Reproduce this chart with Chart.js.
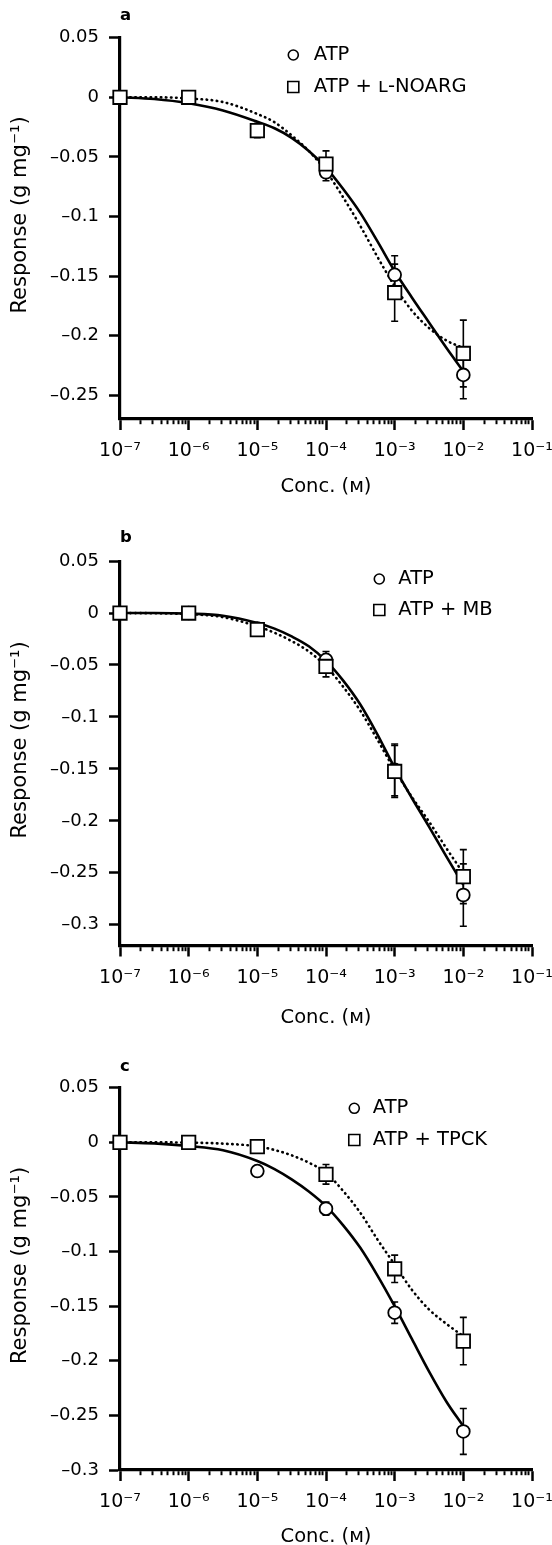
<!DOCTYPE html>
<html><head><meta charset="utf-8">
<script src="https://cdn.jsdelivr.net/npm/chart.js@4/dist/chart.umd.min.js"></script>
<style>
html,body{margin:0;padding:0;background:#fff;}
body{width:552px;height:1545px;position:relative;overflow:hidden;}
canvas{position:absolute;left:0;}
</style></head><body>
<canvas id="pa" width="552" height="520" style="top:0px;width:552px;height:520px"></canvas>
<canvas id="pb" width="552" height="520" style="top:523px;width:552px;height:520px"></canvas>
<canvas id="pc" width="552" height="500" style="top:1050px;width:552px;height:500px"></canvas>
<script>
// ---------------- data ----------------
const conc = [1e-7, 1e-6, 1e-5, 1e-4, 1e-3, 1e-2];
const curveConc = [1e-7, 3.16e-7, 1e-6, 3.16e-6, 1e-5, 1.78e-5, 3.16e-5, 5.62e-5, 1e-4, 1.78e-4, 3.16e-4, 5.62e-4, 1e-3, 1.78e-3, 3.16e-3, 5.62e-3, 1e-2];
const xDecades = [1e-7, 1e-6, 1e-5, 1e-4, 1e-3, 1e-2, 1e-1];
const xTickLabels = ['10⁻⁷', '10⁻⁶', '10⁻⁵', '10⁻⁴', '10⁻³', '10⁻²', '10⁻¹'];
const xMinorSteps = [2, 3, 4, 5, 6, 7, 8, 9];
const yTicksA = [0.05, 0, -0.05, -0.1, -0.15, -0.2, -0.25];
const yTicksBC = [0.05, 0, -0.05, -0.1, -0.15, -0.2, -0.25, -0.3];

// panel a : ATP vs ATP + L-NOARG
const atpA      = [0, 0, -0.027, -0.063, -0.149, -0.233];
const atpAErr   = [0, 0, 0.004, 0.007, 0.016, 0.020];
const noargA    = [0, 0, -0.028, -0.056, -0.164, -0.215];
const noargAErr = [0, 0, 0.006, 0.011, 0.024, 0.028];
const atpAFit   = [0, -0.0015, -0.005, -0.011, -0.0205, -0.026, -0.034, -0.045, -0.059, -0.077, -0.097, -0.121, -0.146, -0.168, -0.189, -0.210, -0.230];
const noargAFit = [0, 0, -0.001, -0.004, -0.014, -0.021, -0.032, -0.045, -0.062, -0.084, -0.108, -0.134, -0.1585, -0.179, -0.1936, -0.204, -0.2104];

// panel b : ATP vs ATP + MB
const atpB      = [0, 0, -0.015, -0.045, -0.151, -0.2714];
const atpBErr   = [0, 0, 0, 0.008, 0.025, 0.030];
const mbB       = [0, 0, -0.016, -0.0514, -0.1525, -0.2537];
const mbBErr    = [0, 0, 0.003, 0.010, 0.025, 0.026];
const atpBFit   = [0, 0, -0.0006, -0.0026, -0.0096, -0.015, -0.0225, -0.032, -0.046, -0.065, -0.088, -0.117, -0.149, -0.178, -0.2055, -0.234, -0.2617];
const mbBFit    = [0, -0.0002, -0.001, -0.004, -0.0128, -0.019, -0.027, -0.037, -0.0514, -0.071, -0.094, -0.122, -0.151, -0.177, -0.2007, -0.226, -0.2505];

// panel c : ATP vs ATP + TPCK
const atpC      = [0, 0, -0.0263, -0.0608, -0.156, -0.2647];
const atpCErr   = [0, 0, 0, 0.006, 0.0098, 0.021];
const tpckC     = [0, 0, -0.004, -0.0293, -0.1158, -0.182];
const tpckCErr  = [0, 0, 0, 0.009, 0.0125, 0.0217];
const atpCFit   = [0, -0.001, -0.0034, -0.0073, -0.0171, -0.0245, -0.0339, -0.045, -0.0584, -0.076, -0.0966, -0.122, -0.150, -0.180, -0.2097, -0.237, -0.260];
const tpckCFit  = [0, 0, -0.0003, -0.0012, -0.0037, -0.007, -0.0119, -0.0186, -0.0278, -0.0446, -0.0645, -0.089, -0.1119, -0.135, -0.153, -0.166, -0.1776];

// ---------------- rendering ----------------
const FONT = "'DejaVu Sans', 'Liberation Sans', sans-serif";
Chart.defaults.font.family = FONT;
Chart.defaults.color = '#000';

const xTickList = [];
xDecades.forEach((d, i) => {
  xTickList.push({ value: d, major: true });
  if (i < xDecades.length - 1) xMinorSteps.forEach(m => xTickList.push({ value: m * d, major: false }));
});

function fmtY(v) {
  const s = String(Number(v.toFixed(2)));
  return s.replace('-', '\u2013');
}

const errorBarPlugin = {
  id: 'errorBars',
  beforeDatasetsDraw(chart) {
    const { ctx } = chart;
    const xs = chart.scales.x, ys = chart.scales.y;
    ctx.save();
    ctx.strokeStyle = '#000';
    ctx.lineWidth = 1.6;
    chart.data.datasets.forEach(ds => {
      if (!ds.errors) return;
      ds.data.forEach((pt, i) => {
        const e = ds.errors[i];
        if (!e) return;
        const px = xs.getPixelForValue(pt.x);
        const yt = ys.getPixelForValue(pt.y + e);
        const yb = ys.getPixelForValue(pt.y - e);
        ctx.beginPath();
        ctx.moveTo(px, yt); ctx.lineTo(px, yb);
        ctx.moveTo(px - 3.5, yt); ctx.lineTo(px + 3.5, yt);
        ctx.moveTo(px - 3.5, yb); ctx.lineTo(px + 3.5, yb);
        ctx.stroke();
      });
    });
    ctx.restore();
  }
};

const panelLegendPlugin = {
  id: 'panelLegend',
  afterDatasetsDraw(chart, args, opts) {
    const ctx = chart.ctx;
    const items = chart.data.datasets.filter(d => d.inLegend);
    items.sort((a, b) => a.legendRow - b.legendRow);
    ctx.save();
    items.forEach((ds, i) => {
      const cy = opts.y + i * opts.rowGap;
      ctx.lineWidth = 1.6;
      ctx.strokeStyle = '#000';
      ctx.fillStyle = '#fff';
      const r = ds.pointStyle === 'circle' ? 5 : 7.8;
      Chart.helpers.drawPoint(ctx, { pointStyle: ds.pointStyle, radius: r, borderWidth: 1.6, rotation: 0 }, opts.x, cy);
      ctx.fillStyle = '#000';
      ctx.font = opts.fontSize + 'px ' + FONT;
      ctx.textBaseline = 'middle';
      ctx.textAlign = 'left';
      ctx.fillText(ds.label, opts.x + opts.textGap, cy);
    });
    ctx.restore();
  }
};

function pts(xv, yv) { return xv.map((x, i) => ({ x: x, y: yv[i] })); }

function makePanel(id, p) {
  const datasets = [
    { label: p.treatLabel, data: pts(conc, p.treat), errors: p.treatErr, showLine: false,
      pointStyle: 'rect', pointRadius: 9.5, pointBorderWidth: 1.8, pointBackgroundColor: '#fff',
      pointBorderColor: '#000', order: 0, clip: false, inLegend: true, legendRow: 1 },
    { label: 'ATP', data: pts(conc, p.atp), errors: p.atpErr, showLine: false,
      pointStyle: 'circle', pointRadius: 6.4, pointBorderWidth: 1.8, pointBackgroundColor: '#fff',
      pointBorderColor: '#000', order: 1, clip: false, inLegend: true, legendRow: 0 },
    { label: 'ATP fit', data: pts(curveConc, p.atpFit), borderColor: '#000', borderWidth: 2.6,
      pointRadius: 0, cubicInterpolationMode: 'monotone', fill: false, order: 2, clip: false },
    { label: p.treatLabel + ' fit', data: pts(curveConc, p.treatFit), borderColor: '#000', borderWidth: 2.6,
      borderDash: [0.5, 4.6], borderCapStyle: 'round', pointRadius: 0, cubicInterpolationMode: 'monotone',
      fill: false, order: 3, clip: false }
  ];
  return new Chart(document.getElementById(id), {
    type: 'line',
    data: { datasets },
    options: {
      responsive: false, animation: false, events: [],
      layout: { padding: { top: 0, right: 20, left: 0, bottom: 0 } },
      plugins: {
        legend: { display: false },
        tooltip: { enabled: false },
        title: { display: true, text: p.letter, align: 'start', fullSize: false, color: '#000',
                 font: { family: FONT, size: 16.5, weight: 'bold', lineHeight: 1.2 },
                 padding: { top: p.titleTop, bottom: p.titleBottom } },
        panelLegend: { x: p.legX, y: p.legY, rowGap: p.legGap, textGap: p.legTextGap, fontSize: 19.5 }
      },
      scales: {
        x: {
          type: 'logarithmic', position: 'bottom', min: 1e-7, max: 1e-1, offset: false,
          afterBuildTicks: s => { s.ticks = xTickList.map(t => ({ value: t.value, major: t.major })); },
          afterFit: s => { s.height = p.xHeight; s.paddingRight = 0; s.paddingLeft = 0; },
          border: { display: true, color: '#000', width: 3.2 },
          grid: {
            display: true, drawOnChartArea: false, drawTicks: true, tickLength: 11,
            tickColor: '#000',
            tickWidth: c => (c.tick && c.tick.major) ? 2.5 : 2,
            tickBorderDash: c => (c.tick && c.tick.major) ? [] : [4, 30]
          },
          ticks: {
            autoSkip: false, maxRotation: 0, minRotation: 0, padding: 10, color: '#000',
            font: { family: FONT, size: 19 },
            callback: (v) => { const k = xDecades.findIndex(d => Math.abs(d - v) / d < 1e-6); return k >= 0 ? xTickLabels[k] : ''; }
          },
          title: { display: true, text: 'Conc. (\u1D0D)', color: '#000', font: { family: FONT, size: 19.5, lineHeight: 1.2 },
                   padding: { top: 0, bottom: p.xTitleBottom } }
        },
        y: {
          type: 'linear', position: 'left', min: p.yMin, max: 0.05,
          afterBuildTicks: s => { s.ticks = p.yTicks.map(v => ({ value: v })); },
          afterFit: s => { s.width = 120; },
          border: { display: true, color: '#000', width: 3.2 },
          grid: { display: true, drawOnChartArea: false, drawTicks: true, tickLength: 11, tickColor: '#000', tickWidth: 2.5 },
          ticks: { autoSkip: false, padding: 10, color: '#000', font: { family: FONT, size: 18 }, callback: v => fmtY(v) },
          title: { display: true, text: '    Response (g mg\u207B\u00B9)', color: '#000',
                   font: { family: FONT, size: 21, lineHeight: 1.2 }, padding: { top: 8, bottom: 0 } }
        }
      }
    },
    plugins: [errorBarPlugin, panelLegendPlugin]
  });
}

makePanel('pa', {
  letter: 'a', treatLabel: 'ATP + \u029F-NOARG',
  atp: atpA, atpErr: atpAErr, treat: noargA, treatErr: noargAErr, atpFit: atpAFit, treatFit: noargAFit,
  yMin: -0.27, yTicks: yTicksA, titleTop: 5.5, titleBottom: 12.4, xHeight: 101, xTitleBottom: 21,
  legX: 293.3, legY: 55, legGap: 32, legTextGap: 20.5
});
makePanel('pb', {
  letter: 'b', treatLabel: 'ATP + MB',
  atp: atpB, atpErr: atpBErr, treat: mbB, treatErr: mbBErr, atpFit: atpBFit, treatFit: mbBFit,
  yMin: -0.32, yTicks: yTicksBC, titleTop: 4.8, titleBottom: 13.5, xHeight: 97.5, xTitleBottom: 13.5,
  legX: 379.3, legY: 56, legGap: 31, legTextGap: 19
});
makePanel('pc', {
  letter: 'c', treatLabel: 'ATP + TPCK',
  atp: atpC, atpErr: atpCErr, treat: tpckC, treatErr: tpckCErr, atpFit: atpCFit, treatFit: tpckCFit,
  yMin: -0.3, yTicks: yTicksBC, titleTop: 6.5, titleBottom: 11.4, xHeight: 80, xTitleBottom: 1.5,
  legX: 354.3, legY: 58.3, legGap: 31.7, legTextGap: 18.5
});
</script>
</body></html>
